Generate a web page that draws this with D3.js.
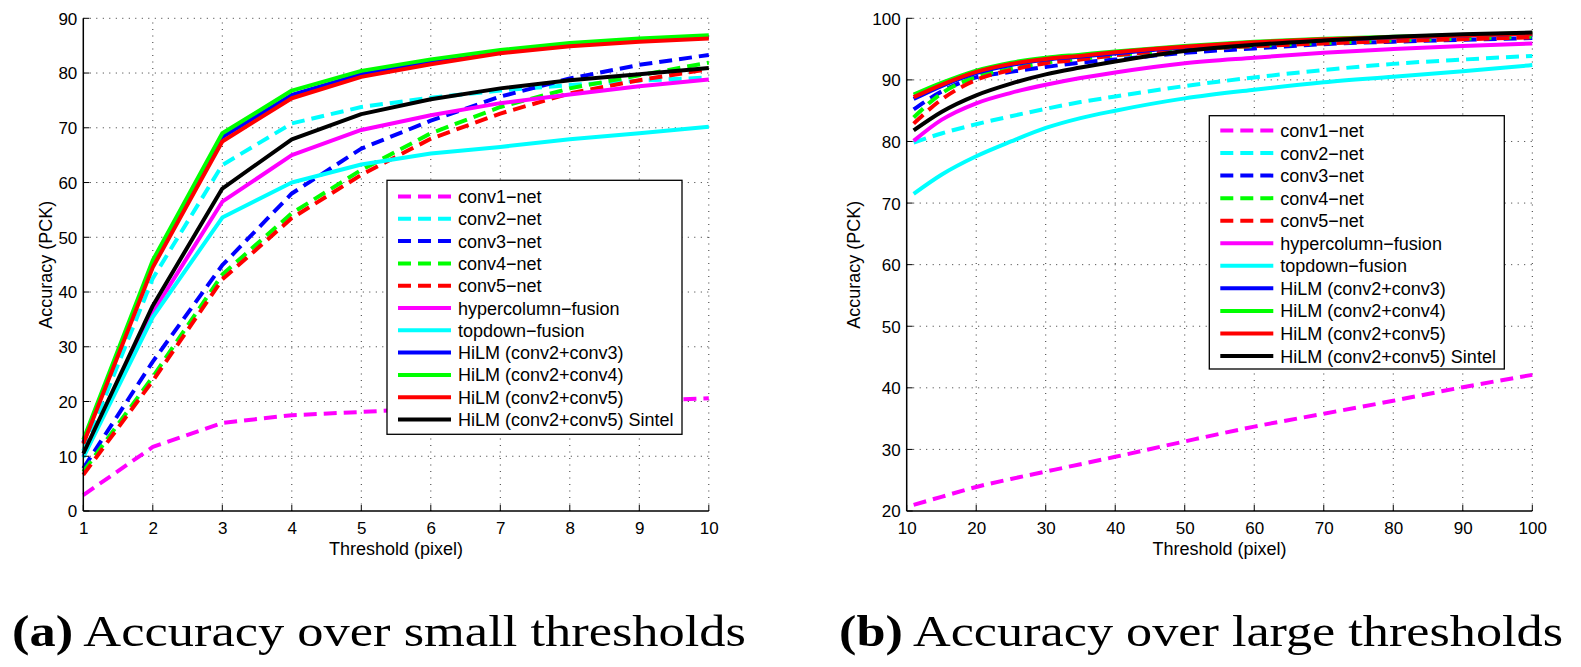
<!DOCTYPE html>
<html>
<head>
<meta charset="utf-8">
<script src="https://cdn.jsdelivr.net/npm/d3@7"></script>
<style>
  html, body { margin: 0; padding: 0; background: #fff; }
  svg { display: block; }
</style>
</head>
<body>
<svg id="chart" width="1581" height="667"></svg>
<script>
// ---------- DATA ----------
const seriesNames = ["conv1\u2212net", "conv2\u2212net", "conv3\u2212net", "conv4\u2212net", "conv5\u2212net",
  "hypercolumn\u2212fusion", "topdown\u2212fusion", "HiLM (conv2+conv3)", "HiLM (conv2+conv4)",
  "HiLM (conv2+conv5)", "HiLM (conv2+conv5) Sintel"];
const seriesColors = ["#ff00ff", "#00ffff", "#0000ff", "#00ff00", "#ff0000",
  "#ff00ff", "#00ffff", "#0000ff", "#00ff00", "#ff0000", "#000000"];
const seriesDashed = [true, true, true, true, true, false, false, false, false, false, false];

// (a) small thresholds
const smallThresholds = [1, 2, 3, 4, 5, 6, 7, 8, 9, 10];
const smallConv1 = [2.9, 11.7, 16.1, 17.5, 18.1, 18.7, 19.2, 19.7, 20.1, 20.6];
const smallConv2 = [11.0, 42.5, 63.2, 70.8, 73.8, 75.5, 76.8, 77.8, 78.6, 79.2];
const smallConv3 = [7.8, 27.3, 44.9, 58.0, 66.2, 71.3, 75.7, 79.0, 81.5, 83.3];
const smallConv4 = [7.2, 24.5, 43.2, 54.4, 62.3, 69.0, 73.8, 77.2, 79.6, 81.9];
const smallConv5 = [6.6, 23.8, 42.3, 53.5, 61.4, 68.0, 72.6, 76.3, 78.7, 80.7];
const smallHyper = [10.0, 36.3, 56.5, 65.0, 69.6, 72.3, 74.5, 76.1, 77.6, 78.8];
const smallTopdown = [9.8, 35.4, 53.6, 60.0, 63.3, 65.3, 66.5, 67.9, 69.0, 70.2];
const smallHiLM23 = [12.5, 45.0, 68.3, 76.0, 79.8, 82.0, 83.9, 85.2, 86.0, 86.6];
const smallHiLM24 = [13.0, 45.8, 69.0, 76.8, 80.4, 82.5, 84.2, 85.5, 86.3, 86.9];
const smallHiLM25 = [12.3, 44.5, 67.5, 75.4, 79.3, 81.6, 83.6, 84.9, 85.7, 86.3];
const smallSintel = [10.5, 37.5, 58.9, 67.9, 72.5, 75.2, 77.2, 78.7, 79.8, 80.9];
const smallXTicks = [1, 2, 3, 4, 5, 6, 7, 8, 9, 10];
const smallYTicks = [0, 10, 20, 30, 40, 50, 60, 70, 80, 90];

// (b) large thresholds
const largeThresholds = [11, 15, 20, 25, 30, 35, 40, 50, 60, 70, 80, 90, 100];
const largeConv1 = [21.0, 22.3, 23.9, 25.2, 26.4, 27.6, 28.8, 31.3, 33.7, 35.8, 37.9, 40.1, 42.1];
const largeConv2 = [79.8, 81.3, 82.8, 84.1, 85.3, 86.4, 87.3, 89.0, 90.4, 91.6, 92.6, 93.3, 93.9];
const largeConv3 = [85.2, 88.1, 90.4, 91.3, 92.1, 92.8, 93.3, 94.4, 95.1, 95.8, 96.2, 96.5, 96.8];
const largeConv4 = [83.9, 87.8, 90.5, 91.8, 92.8, 93.4, 94.0, 94.9, 95.5, 96.0, 96.4, 96.7, 97.0];
const largeConv5 = [82.9, 86.8, 90.0, 91.6, 92.7, 93.3, 94.0, 94.9, 95.5, 95.9, 96.3, 96.6, 96.9];
const largeHyper = [80.1, 83.5, 86.2, 87.9, 89.2, 90.3, 91.2, 92.7, 93.6, 94.4, 95.0, 95.5, 95.9];
const largeTopdown = [71.5, 74.6, 77.6, 80.0, 82.2, 83.8, 85.0, 87.0, 88.4, 89.6, 90.5, 91.4, 92.4];
const largeHiLM23 = [86.9, 89.0, 91.1, 92.4, 93.3, 93.8, 94.3, 95.3, 96.0, 96.5, 96.9, 97.2, 97.5];
const largeHiLM24 = [87.6, 89.5, 91.5, 92.8, 93.6, 94.1, 94.6, 95.5, 96.2, 96.7, 97.0, 97.3, 97.6];
const largeHiLM25 = [87.2, 89.2, 91.3, 92.6, 93.4, 93.9, 94.5, 95.4, 96.1, 96.6, 96.9, 97.2, 97.5];
const largeSintel = [81.8, 84.8, 87.5, 89.4, 90.9, 92.0, 93.0, 94.7, 95.7, 96.4, 97.0, 97.4, 97.7];
const largeXTicks = [10, 20, 30, 40, 50, 60, 70, 80, 90, 100];
const largeYTicks = [20, 30, 40, 50, 60, 70, 80, 90, 100];

const xLabel = "Threshold (pixel)";
const yLabel = "Accuracy (PCK)";
const captionA = ["(a)", " Accuracy over small thresholds"];
const captionB = ["(b)", " Accuracy over large thresholds"];

// ---------- DRAW ----------
const svg = d3.select("#chart");
const SANS = "'Liberation Sans', Arial, Helvetica, sans-serif";

function drawPanel(cfg) {
  const g = svg.append("g");
  const x = d3.scaleLinear().domain(cfg.xDomain).range([cfg.left, cfg.right]);
  const y = d3.scaleLinear().domain(cfg.yDomain).range([cfg.bottom, cfg.top]);

  // grid
  const grid = g.append("g").attr("stroke", "#333").attr("stroke-width", 1)
    .attr("stroke-dasharray", "1,5.5");
  grid.selectAll("line.vx").data(cfg.xTicks.slice(1)).join("line")
    .attr("x1", d => x(d)).attr("x2", d => x(d))
    .attr("y1", cfg.bottom).attr("y2", cfg.top);
  grid.selectAll("line.hy").data(cfg.yTicks.slice(1)).join("line")
    .attr("x1", cfg.left).attr("x2", cfg.right)
    .attr("y1", d => y(d)).attr("y2", d => y(d));

  // lines
  const line = d3.line().x(d => x(d[0])).y(d => y(d[1])).curve(cfg.curve);
  cfg.series.forEach((vals, i) => {
    const pts = cfg.xs.map((t, j) => [t, vals[j]]);
    g.append("path").attr("d", line(pts))
      .attr("fill", "none")
      .attr("stroke", seriesColors[i])
      .attr("stroke-width", 4)
      .attr("stroke-linejoin", "round")
      .attr("stroke-dasharray", seriesDashed[i] ? "13,7" : null);
  });

  // axes
  const xAxis = d3.axisBottom(x).tickValues(cfg.xTicks).tickSize(0).tickPadding(0).tickFormat(d3.format("d"));
  const xa = g.append("g").attr("transform", `translate(0,${cfg.bottom})`).call(xAxis);
  xa.select(".domain").remove();
  xa.selectAll("text").attr("font-family", SANS).attr("font-size", 17).attr("fill", "#000")
    .attr("dy", null).attr("y", 23);
  const yAxis = d3.axisLeft(y).tickValues(cfg.yTicks).tickSize(0).tickPadding(0).tickFormat(d3.format("d"));
  const ya = g.append("g").attr("transform", `translate(${cfg.left},0)`).call(yAxis);
  ya.select(".domain").remove();
  ya.selectAll("text").attr("font-family", SANS).attr("font-size", 17).attr("fill", "#000")
    .attr("x", -6).attr("dy", "0.35em");

  // inner ticks
  const tk = g.append("g").attr("stroke", "#000").attr("stroke-width", 1);
  tk.selectAll("line.tx").data(cfg.xTicks).join("line")
    .attr("x1", d => x(d)).attr("x2", d => x(d))
    .attr("y1", cfg.bottom).attr("y2", cfg.bottom - 6);
  tk.selectAll("line.ty").data(cfg.yTicks).join("line")
    .attr("x1", cfg.left).attr("x2", cfg.left + 6)
    .attr("y1", d => y(d)).attr("y2", d => y(d));

  // axis lines
  g.append("line").attr("x1", cfg.left).attr("x2", cfg.left).attr("y1", cfg.top).attr("y2", cfg.bottom)
    .attr("stroke", "#000").attr("stroke-width", 1.5);
  g.append("line").attr("x1", cfg.left).attr("x2", cfg.right).attr("y1", cfg.bottom).attr("y2", cfg.bottom)
    .attr("stroke", "#000").attr("stroke-width", 1.5);

  // axis labels
  g.append("text").attr("x", (cfg.left + cfg.right) / 2).attr("y", 555)
    .attr("text-anchor", "middle").attr("font-family", SANS).attr("font-size", 18).text(xLabel);
  g.append("text").attr("transform", `translate(${cfg.yLabelX},${(cfg.top + cfg.bottom) / 2}) rotate(-90)`)
    .attr("text-anchor", "middle").attr("dominant-baseline", "central")
    .attr("font-family", SANS).attr("font-size", 18).text(yLabel);

  // legend
  const L = cfg.legend;
  const lg = g.append("g");
  lg.append("rect").attr("x", L.x).attr("y", L.y).attr("width", L.w).attr("height", L.h)
    .attr("fill", "#fff").attr("stroke", "#000").attr("stroke-width", 1.3);
  seriesNames.forEach((name, i) => {
    const cy = L.firstRow + i * L.step;
    lg.append("line").attr("x1", L.x + 11).attr("x2", L.x + 64).attr("y1", cy).attr("y2", cy)
      .attr("stroke", seriesColors[i]).attr("stroke-width", 4)
      .attr("stroke-dasharray", seriesDashed[i] ? "13,7" : null);
    lg.append("text").attr("x", L.x + 71).attr("y", cy + 6.5)
      .attr("font-family", SANS).attr("font-size", 18).attr("fill", "#000").text(name);
  });
}

drawPanel({
  left: 83.3, right: 708.8, top: 18.3, bottom: 511,
  xDomain: [1, 10], yDomain: [0, 90],
  xTicks: smallXTicks, yTicks: smallYTicks,
  xs: smallThresholds,
  series: [smallConv1, smallConv2, smallConv3, smallConv4, smallConv5, smallHyper, smallTopdown,
           smallHiLM23, smallHiLM24, smallHiLM25, smallSintel],
  curve: d3.curveLinear,
  yLabelX: 46,
  legend: { x: 387, y: 180.3, w: 295, h: 254, firstRow: 196.5, step: 22.3 }
});

drawPanel({
  left: 906.7, right: 1532.3, top: 18.3, bottom: 511,
  xDomain: [10, 100], yDomain: [20, 100],
  xTicks: largeXTicks, yTicks: largeYTicks,
  xs: largeThresholds,
  series: [largeConv1, largeConv2, largeConv3, largeConv4, largeConv5, largeHyper, largeTopdown,
           largeHiLM23, largeHiLM24, largeHiLM25, largeSintel],
  curve: d3.curveMonotoneX,
  yLabelX: 854,
  legend: { x: 1209.3, y: 115.7, w: 295, h: 253.3, firstRow: 130.5, step: 22.55 }
});

// captions
function caption(parts, x, len) {
  const t = svg.append("text").attr("x", x).attr("y", 646)
    .attr("font-family", "'Liberation Serif', 'Times New Roman', serif").attr("font-size", 45)
    .attr("fill", "#000").attr("textLength", len).attr("lengthAdjust", "spacingAndGlyphs");
  t.append("tspan").attr("font-weight", "bold").text(parts[0]);
  t.append("tspan").text(parts[1]);
}
caption(captionA, 12, 734);
caption(captionB, 839, 724);
</script>
</body>
</html>
